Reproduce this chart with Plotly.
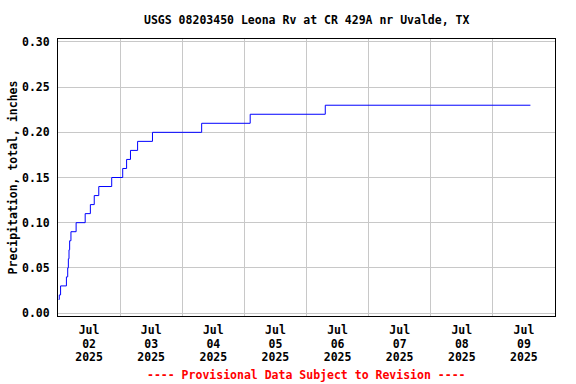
import plotly.graph_objects as go

# Cumulative precipitation readings (time, inches)
times = [
    "2025-07-02 00:15", "2025-07-02 00:30", "2025-07-02 01:00",
    "2025-07-02 03:15", "2025-07-02 03:45", "2025-07-02 04:00",
    "2025-07-02 04:15", "2025-07-02 04:30", "2025-07-02 05:00",
    "2025-07-02 07:00", "2025-07-02 10:30", "2025-07-02 12:30",
    "2025-07-02 14:00", "2025-07-02 15:45", "2025-07-02 20:45",
    "2025-07-03 01:00", "2025-07-03 02:30", "2025-07-03 04:00",
    "2025-07-03 06:45", "2025-07-03 12:30", "2025-07-04 07:30",
    "2025-07-05 02:15", "2025-07-06 07:15", "2025-07-09 14:30",
]
values = [
    0.015, 0.02, 0.03,
    0.04, 0.05, 0.06,
    0.07, 0.08, 0.09,
    0.10, 0.11, 0.12,
    0.13, 0.14, 0.15,
    0.16, 0.17, 0.18,
    0.19, 0.20, 0.21,
    0.22, 0.23, 0.23,
]

tick_days = ["02", "03", "04", "05", "06", "07", "08", "09"]
tick_month = ["Jul"] * len(tick_days)
tick_year = ["2025"] * len(tick_days)
tick_vals = [f"2025-07-{d} 12:00" for d in tick_days]
grid_vals = [f"2025-07-{d:02d} 00:00" for d in range(2, 11)]

y_ticks = [0.00, 0.05, 0.10, 0.15, 0.20, 0.25, 0.30]

title_text = "USGS 08203450 Leona Rv at CR 429A nr Uvalde, TX"
note_text = "---- Provisional Data Subject to Revision ----"
y_title = "Precipitation, total, inches"

FONT = "DejaVu Sans Mono"
FS = 11.5
X_RANGE = ["2025-07-02 00:00", "2025-07-10 00:00"]

fig = go.Figure()
fig.add_trace(go.Scatter(
    x=times, y=values, mode="lines", line_shape="hv",
    line=dict(color="#0000ff", width=1), showlegend=False,
))
# empty traces so the label-row axes are drawn
for ax in ("x2", "x3"):
    fig.add_trace(go.Scatter(x=[], y=[], xaxis=ax, yaxis="y",
                             showlegend=False, hoverinfo="skip"))

tf = dict(family=FONT, size=FS, color="black", weight="bold")

fig.update_layout(
    width=576, height=384,
    margin=dict(l=58, r=21, t=39, b=68, autoexpand=False),
    paper_bgcolor="white", plot_bgcolor="white",
    font=tf,
    annotations=[
        dict(text=title_text, xref="paper", yref="paper", x=0.5, y=1.0,
             yshift=19, showarrow=False, xanchor="center", yanchor="middle",
             font=tf),
        dict(text=note_text, xref="paper", yref="paper", x=0.5, y=0.0,
             yshift=-59, showarrow=False, xanchor="center", yanchor="middle",
             font=dict(family=FONT, size=FS, color="#ff0000", weight="bold")),
    ],
    xaxis=dict(
        range=X_RANGE, type="date", automargin=False,
        tickmode="array", tickvals=tick_vals, ticktext=tick_month,
        showgrid=False, ticks="", tickangle=0, tickfont=tf,
        minor=dict(tickmode="array", tickvals=grid_vals, showgrid=True,
                   gridcolor="#c8c8c8", gridwidth=1, ticks=""),
        showline=True, linecolor="black", linewidth=1, mirror=True,
        zeroline=False, ticklabelstandoff=3,
    ),
    xaxis2=dict(
        range=X_RANGE, type="date", overlaying="x", anchor="y", side="bottom",
        automargin=False, matches="x",
        tickmode="array", tickvals=tick_vals, ticktext=tick_days,
        showgrid=False, ticks="", tickangle=0, tickfont=tf,
        showline=False, zeroline=False, ticklabelstandoff=19,
    ),
    xaxis3=dict(
        range=X_RANGE, type="date", overlaying="x", anchor="y", side="bottom",
        automargin=False, matches="x",
        tickmode="array", tickvals=tick_vals, ticktext=tick_year,
        showgrid=False, ticks="", tickangle=0, tickfont=tf,
        showline=False, zeroline=False, ticklabelstandoff=32,
    ),
    yaxis=dict(
        range=[-0.0033, 0.3033], automargin=False,
        tickmode="array", tickvals=y_ticks, tickformat=".2f",
        showgrid=True, gridcolor="#c8c8c8", gridwidth=1,
        ticks="", tickfont=tf, ticklabelstandoff=5,
        title=dict(text=y_title, font=tf, standoff=1),
        showline=True, linecolor="black", linewidth=1, mirror=True,
        zeroline=False,
    ),
)

fig.write_html("out.html", config={"displayModeBar": False},
               post_script="document.body.style.margin='0px';")
